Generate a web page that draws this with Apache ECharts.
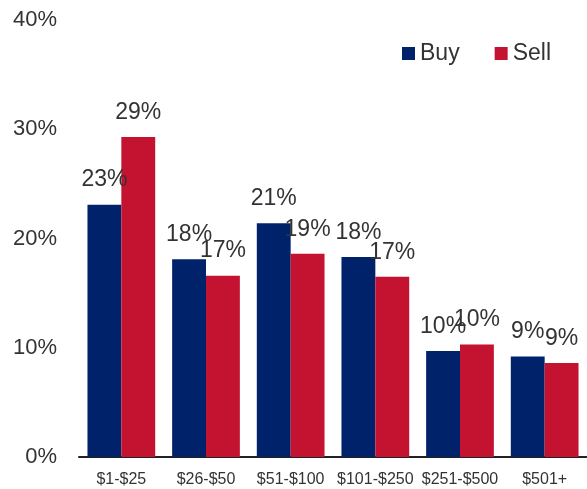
<!DOCTYPE html>
<html>
<head>
<meta charset="utf-8">
<script src="https://cdn.jsdelivr.net/npm/echarts@6/dist/echarts.min.js"></script>
<style>
  html, body { margin: 0; padding: 0; background: #fff; }
  #chart { width: 587px; height: 489px; }
</style>
</head>
<body>
<div id="chart"></div>
<script>
// Price brackets and the share of trades falling in each (percent)
const categories = ['$1-$25', '$26-$50', '$51-$100', '$101-$250', '$251-$500', '$501+'];
const buyValues  = [23.1, 18.1, 21.4, 18.3, 9.7, 9.2];
const sellValues = [29.3, 16.6, 18.6, 16.5, 10.3, 8.6];
const yTicks = [0, 10, 20, 30, 40];

const FONT = '"Liberation Sans Narrow", "Liberation Sans", sans-serif';
const TEXT = '#333333';

const chart = echarts.init(document.getElementById('chart'), null, { renderer: 'canvas' });

const labelStyle = {
  show: true,
  position: 'top',
  distance: 13,
  fontFamily: FONT,
  fontSize: 23,
  color: TEXT,
  formatter: p => Math.round(p.value) + '%'
};

chart.setOption({
  animation: false,
  backgroundColor: '#ffffff',
  grid: { left: 79, right: 0, top: 20, bottom: 32 },
  legend: {
    data: ['Buy', 'Sell'],
    top: 37,
    right: 31,
    itemWidth: 13,
    itemHeight: 13,
    itemGap: 35,
    icon: 'rect',
    textStyle: { fontFamily: FONT, fontSize: 23, color: TEXT }
  },
  xAxis: {
    type: 'category',
    data: categories,
    axisLine: { show: true, lineStyle: { color: '#222', width: 2 } },
    axisTick: { show: false },
    axisLabel: { fontFamily: FONT, fontSize: 16, color: TEXT, margin: 15, interval: 0 }
  },
  yAxis: {
    type: 'value',
    min: yTicks[0],
    max: yTicks[yTicks.length - 1],
    interval: 10,
    splitLine: { show: false },
    axisLine: { show: false },
    axisTick: { show: false },
    axisLabel: { fontFamily: FONT, fontSize: 22, color: TEXT, margin: 22, formatter: v => v + '%' }
  },
  series: [
    {
      name: 'Buy',
      type: 'bar',
      data: buyValues,
      itemStyle: { color: '#00226A' },
      barGap: '0%',
      barCategoryGap: '20%',
      label: labelStyle
    },
    {
      name: 'Sell',
      type: 'bar',
      data: sellValues,
      itemStyle: { color: '#C41330' },
      barGap: '0%',
      barCategoryGap: '20%',
      label: labelStyle
    }
  ]
});
</script>
</body>
</html>
